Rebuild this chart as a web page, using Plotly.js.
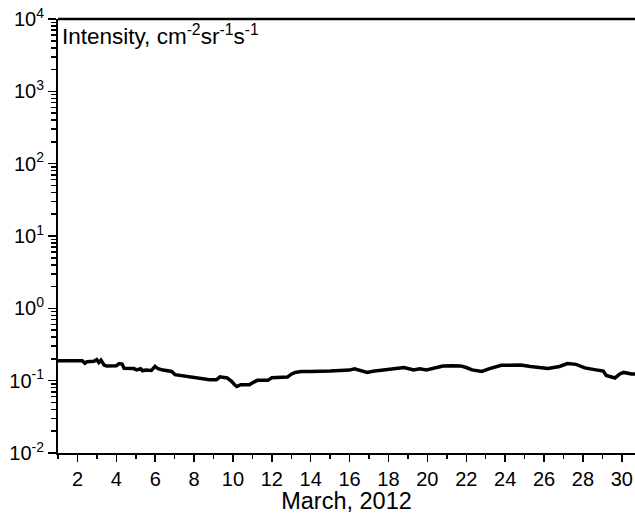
<!DOCTYPE html>
<html>
<head>
<meta charset="utf-8">
<script src="https://cdn.plot.ly/plotly-3.0.1.min.js"></script>
<style>html,body{margin:0;padding:0;background:#fff;}#chart{width:635px;height:514px;}</style>
</head>
<body>
<div id="chart"></div>
<script>
// Day of March 2012
const days = [1.00, 1.8, 2.25, 2.39, 2.5, 2.85, 2.99, 3.1, 3.21, 3.37, 3.5, 4.0, 4.15, 4.3, 4.4, 4.9, 5.05, 5.25, 5.35, 5.5, 5.8, 5.99, 6.15, 6.4, 6.85, 7.02, 7.3, 7.8, 8.3, 8.8, 9.15, 9.33, 9.7, 9.93, 10.1, 10.2, 10.4, 10.85, 11.03, 11.25, 11.8, 12.0, 12.8, 13.0, 13.2, 13.5, 14.0, 14.5, 15.0, 15.5, 16.0, 16.25, 16.6, 16.9, 17.2, 17.8, 18.3, 18.8, 19.3, 19.6, 19.95, 20.3, 20.8, 21.3, 21.7, 22.0, 22.3, 22.8, 23.2, 23.8, 24.3, 24.8, 25.3, 25.8, 26.2, 26.8, 27.2, 27.65, 28.1, 28.6, 29.05, 29.2, 29.65, 29.9, 30.1, 30.5, 30.9];
// Intensity, cm^-2 sr^-1 s^-1
const intensity = [0.189, 0.189, 0.188, 0.174, 0.183, 0.185, 0.195, 0.178, 0.192, 0.164, 0.160, 0.161, 0.172, 0.170, 0.148, 0.147, 0.141, 0.146, 0.137, 0.140, 0.138, 0.158, 0.146, 0.140, 0.134, 0.121, 0.118, 0.113, 0.107, 0.103, 0.103, 0.113, 0.109, 0.098, 0.087, 0.083, 0.088, 0.088, 0.094, 0.101, 0.101, 0.110, 0.112, 0.123, 0.130, 0.134, 0.134, 0.134, 0.136, 0.138, 0.140, 0.146, 0.138, 0.130, 0.135, 0.142, 0.146, 0.152, 0.141, 0.146, 0.141, 0.149, 0.159, 0.161, 0.160, 0.152, 0.141, 0.134, 0.147, 0.163, 0.165, 0.165, 0.157, 0.152, 0.147, 0.157, 0.172, 0.168, 0.150, 0.142, 0.136, 0.118, 0.109, 0.124, 0.130, 0.124, 0.124];

const xTickVals = [2, 4, 6, 8, 10, 12, 14, 16, 18, 20, 22, 24, 26, 28, 30];
const xTickText = ['2', '4', '6', '8', '10', '12', '14', '16', '18', '20', '22', '24', '26', '28', '30'];
const yTickVals = [0.01, 0.1, 1, 10, 100, 1000, 10000];
const yTickText = ['10<sup>-2</sup>', '10<sup>-1</sup>', '10<sup>0</sup>', '10<sup>1</sup>', '10<sup>2</sup>', '10<sup>3</sup>', '10<sup>4</sup>'];
const yMinorVals = [0.02, 0.03, 0.04, 0.05, 0.06, 0.07, 0.08, 0.09, 0.2, 0.3, 0.4, 0.5, 0.6, 0.7, 0.8, 0.9, 2, 3, 4, 5, 6, 7, 8, 9, 20, 30, 40, 50, 60, 70, 80, 90, 200, 300, 400, 500, 600, 700, 800, 900, 2000, 3000, 4000, 5000, 6000, 7000, 8000, 9000];

const FONT = 'Liberation Sans, Arial, sans-serif';

const trace = {
  x: days, y: intensity, type: 'scatter', mode: 'lines',
  line: {color: '#000', width: 3.5, shape: 'linear'},
  hoverinfo: 'skip'
};

const layout = {
  width: 635, height: 514,
  margin: {l: 58, r: 0, t: 19, b: 61, pad: 0},
  paper_bgcolor: '#fff', plot_bgcolor: '#fff',
  showlegend: false,
  font: {family: FONT, color: '#000', size: 20},
  xaxis: {
    range: [1, 30.68], showgrid: false, zeroline: false,
    showline: true, linecolor: '#000', linewidth: 2, mirror: false,
    tickmode: 'array', tickvals: xTickVals, ticktext: xTickText,
    ticks: 'outside', ticklen: 7, tickwidth: 1.5, tickcolor: '#000',
    minor: {ticks: 'outside', ticklen: 4, tickwidth: 1.5, tickcolor: '#000', tickmode: 'linear', tick0: 1, dtick: 1, showgrid: false},
    tickfont: {family: FONT, size: 20, color: '#000'},
    title: {text: 'March, 2012', font: {family: FONT, size: 23.5, color: '#000'}, standoff: 3}
  },
  yaxis: {
    type: 'log', range: [-2, 4], showgrid: false, zeroline: false,
    showline: true, linecolor: '#000', linewidth: 2, mirror: false,
    tickmode: 'array', tickvals: yTickVals, ticktext: yTickText,
    ticks: 'outside', ticklen: 8, tickwidth: 1.5, tickcolor: '#000',
    minor: {ticks: 'outside', ticklen: 5, tickwidth: 1.5, tickcolor: '#000', tickmode: 'array', tickvals: yMinorVals, showgrid: false},
    tickfont: {family: FONT, size: 20, color: '#000'}
  },
  shapes: [{type: 'line', xref: 'paper', yref: 'paper', x0: 0, x1: 1, y0: 1, y1: 1, line: {color: '#000', width: 2.5}}],
  annotations: [{
    text: 'Intensity, cm<sup>-2</sup>sr<sup>-1</sup>s<sup>-1</sup>',
    xref: 'paper', yref: 'paper', x: 0.003, y: 1.0, xanchor: 'left', yanchor: 'top',
    showarrow: false, font: {family: FONT, size: 22.5, color: '#000'}
  }]
};

Plotly.newPlot('chart', [trace], layout, {staticPlot: true, displayModeBar: false});
</script>
</body>
</html>
